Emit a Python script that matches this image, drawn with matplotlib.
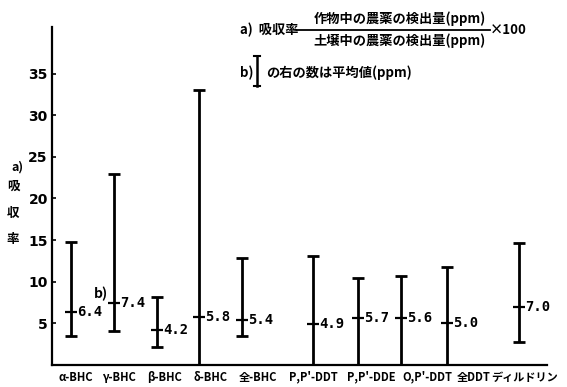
import numpy as np
import matplotlib
matplotlib.use("Agg")
import matplotlib.pyplot as plt

plt.rcParams['font.family'] = ['Noto Sans CJK JP', 'DejaVu Sans']
plt.rcParams['font.weight'] = 'bold'

# ---- data (吸収率, %) ----
labels = ["α-BHC", "γ-BHC", "β-BHC", "δ-BHC", "全-BHC",
          "P,P'-DDT", "P,P'-DDE", "O,P'-DDT", "全DDT", "ディルドリン"]
mean_vals = [6.4, 7.4, 4.2, 5.8, 5.4, 4.9, 5.7, 5.6, 5.0, 7.0]
max_vals = [14.8, 22.9, 8.2, 33.0, 12.8, 13.1, 10.4, 10.7, 11.8, 14.6]
min_vals = [3.5, 4.1, 2.2, 0.0, 3.5, 0.0, 0.0, 0.0, 0.0, 2.8]
# mean label text (as printed)
mean_txt = ["6.4", "7.4", "4.2", "5.8", "5.4", "4.9", "5.7", "5.6", "5.0", "7.0"]

# ---- layout (x in pixel-like units along the axis) ----
bar_x = [19, 62, 105, 147, 190, 261, 306, 349, 395, 467]
label_x = [24, 67, 112, 159, 206, 261, 319, 375, 422, 473]

W, H = 567, 387
fig = plt.figure(figsize=(W / 100, H / 100), dpi=100)
ax = fig.add_axes([52 / W, 1 - 365 / H, 495 / W, 338 / H])

mean = np.array(mean_vals)
yerr = [mean - np.array(min_vals), np.array(max_vals) - mean]
ax.errorbar(bar_x, mean, yerr=yerr, fmt='none', ecolor='black',
            elinewidth=2, capsize=4, capthick=2)
ax.plot(bar_x, mean, linestyle='none', marker='_', markersize=9,
        markeredgewidth=1.6, color='black')
for x, m, s in zip(bar_x, mean_vals, mean_txt):
    ax.annotate(s, (x, m), xytext=(4.5, 0), textcoords='offset points',
                ha='left', va='center', fontsize=10, fontweight='bold',
                family=['DejaVu Sans Mono'])

ax.set_xlim(0, 495)
ax.set_ylim(0, 40.6)
ax.set_yticks([5, 10, 15, 20, 25, 30, 35])
ax.set_yticklabels(["5", "10", "15", "20", "25", "30", "35"],
                   fontsize=10, fontweight='bold', family=['DejaVu Sans'])
ax.tick_params(axis='y', direction='in', length=3, width=1.2, pad=3)
ax.set_xticks(label_x)
ax.set_xticklabels(labels, fontsize=8, fontweight='bold')
ax.tick_params(axis='x', length=0, pad=4)
for side in ['top', 'right']:
    ax.spines[side].set_visible(False)
for side in ['left', 'bottom']:
    ax.spines[side].set_linewidth(1.6)


def ftext(x, y, s, **kw):
    fig.text(x / W, 1 - y / H, s, **kw)


# y label, stacked vertically
ftext(17, 167, "a)", ha='center', va='center', fontsize=9, fontweight='bold')
for ch, yy in zip("吸収率", [186, 213, 240]):
    ftext(13, yy, ch, ha='center', va='center', fontsize=9, fontweight='bold')

ftext(101, 294, "b)", ha='center', va='center', fontsize=10, fontweight='bold')

# footnote a)
ftext(240, 30, "a)  吸収率", ha='left', va='center', fontsize=9.5, fontweight='bold')
ftext(400, 19, "作物中の農薬の検出量(ppm)", ha='center', va='center',
      fontsize=9.5, fontweight='bold')
ftext(400, 41, "土壌中の農薬の検出量(ppm)", ha='center', va='center',
      fontsize=9.5, fontweight='bold')
fig.add_artist(plt.Line2D([296 / W, 490 / W], [1 - 30 / H, 1 - 30 / H],
                          color='black', linewidth=1.3))
ftext(490, 30, "×100", ha='left', va='center', fontsize=9.5, fontweight='bold')

# footnote b)
ftext(240, 73, "b)", ha='left', va='center', fontsize=9.5, fontweight='bold')
fig.add_artist(plt.Line2D([257 / W, 257 / W], [1 - 56 / H, 1 - 86 / H],
                          color='black', linewidth=1.8))
for yy in (56, 86):
    fig.add_artist(plt.Line2D([254 / W, 260 / W], [1 - yy / H, 1 - yy / H],
                              color='black', linewidth=1.5))
ftext(266, 73, "の右の数は平均値(ppm)", ha='left', va='center',
      fontsize=9.5, fontweight='bold')

fig.savefig("out.png", dpi=100)
